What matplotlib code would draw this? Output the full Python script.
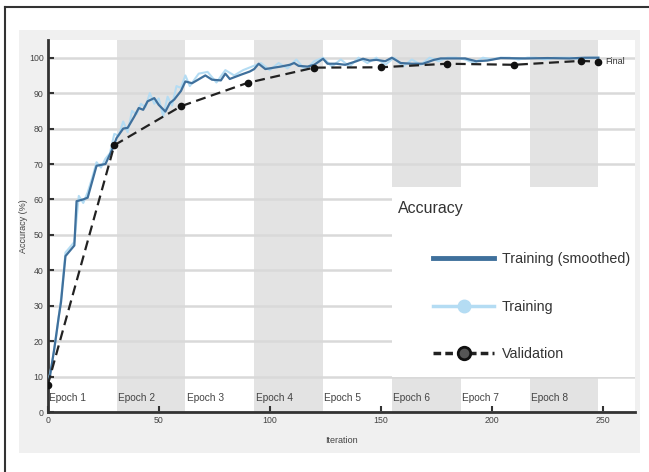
import matplotlib.pyplot as plt
from matplotlib.patches import Rectangle
from matplotlib.lines import Line2D

plt.rcParams['font.family'] = ['Liberation Sans', 'DejaVu Sans']

# data
epoch_len = 31
n_epochs = 8
epoch_labels = ['Epoch %d' % (i + 1) for i in range(n_epochs)]

smooth_iter = [0, 1, 3, 5, 6, 8, 10, 12, 13, 16, 18, 20, 22, 26, 29, 31, 34, 36, 39, 41,
               43, 45, 48, 50, 53, 55, 57, 60, 62, 65, 68, 71, 74, 78, 80, 82, 87, 91, 93, 95,
               98, 101, 105, 109, 111, 113, 117, 120, 124, 126, 130, 134, 139, 142, 145, 148, 152, 155, 159, 164,
               169, 174, 177, 188, 193, 198, 204, 215, 225, 235, 242, 248]
smooth_acc = [8.0, 10, 18, 27, 31, 44, 45.5, 47, 59.5, 60, 60.5, 65, 69.5, 70, 74, 77.3, 80, 80.2, 83.4, 85.8,
              85.3, 87.7, 88.6, 86.7, 84.8, 87.2, 88.2, 90.6, 93.3, 92.8, 93.9, 95, 93.8, 93.6, 95.5, 94, 95.2, 96.1, 96.8, 98.3,
              96.8, 97.1, 97.5, 98, 98.5, 97.7, 97.5, 98, 99.7, 98.3, 98.3, 98, 99, 99.7, 99.2, 99.4, 99, 100, 98.5, 98.3,
              98.3, 99.4, 99.8, 99.8, 99.0, 99.2, 99.9, 99.8, 99.9, 99.8, 100, 100]

raw_iter = [0, 2, 4, 6, 8, 10, 12, 14, 16, 18, 20, 22, 24, 26, 28, 30, 32, 34, 36, 38,
            40, 42, 44, 46, 48, 50, 52, 54, 56, 58, 60, 62, 64, 68, 72, 76, 80, 84, 88, 92,
            96, 100, 104, 108, 112, 116, 120, 124, 128, 132, 136, 140, 144, 148, 152, 156, 160, 164, 168, 172,
            176, 180, 184, 188, 192, 196, 200, 204, 208, 212, 216, 220, 224, 228, 232, 236, 240, 244, 248]
raw_acc = [7.5, 14, 22, 32, 45, 46.5, 48, 61, 59, 62, 66, 70.5, 69, 71.5, 73, 78.5, 78, 82, 79, 85,
           84, 87, 86, 90, 87, 88.5, 83.5, 89, 86.5, 92, 91.5, 95, 92, 95.5, 96, 93, 96.5, 95, 96.5, 97.5,
           98.5, 96.5, 98.5, 97, 99.5, 96.5, 99, 100, 97.5, 99.5, 97.5, 100, 98.5, 100, 98, 100, 97.5, 99.5, 98, 100,
           99, 100, 100, 99.5, 98.5, 100, 99.5, 100, 100, 99.5, 100, 100, 99.5, 100, 100, 100, 99.5, 100, 100]

val_iter = [0, 30, 60, 90, 120, 150, 180, 210, 240, 248]
val_acc = [7.6, 75.3, 86.3, 92.9, 97.2, 97.3, 98.3, 98.0, 99.1, 98.9]

c_smooth = '#3f709c'
c_raw = '#b4dcf3'

W, H = 649, 472
fig = plt.figure(figsize=(W / 100, H / 100), dpi=100)

# grey panel + outer frame
fig.patches.append(Rectangle((19 / W, 1 - 453 / H), (640 - 19) / W, (453 - 30) / H,
                             transform=fig.transFigure, facecolor='#f0f0f0', edgecolor='none', zorder=-5))
fig.lines.append(Line2D([5 / W, 1], [1 - 7 / H, 1 - 7 / H], transform=fig.transFigure, color='#333333', lw=1.5))
fig.lines.append(Line2D([5 / W, 5 / W], [0, 1 - 7 / H], transform=fig.transFigure, color='#333333', lw=1.5))

ax = fig.add_axes([47.7 / W, 1 - 412 / H, (635 - 47.7) / W, (412 - 40) / H])
ax.set_facecolor('white')

# epoch bands
for k in range(n_epochs):
    if k % 2 == 1:
        ax.axvspan(k * epoch_len, (k + 1) * epoch_len, color='#e3e3e3', lw=0, zorder=0.2)
    ax.text(k * epoch_len + 0.6, 4, epoch_labels[k], fontsize=7.3, color='#444444', va='center', ha='left', zorder=3)

# grid
ax.set_axisbelow(True)
ax.yaxis.grid(True, color='#d9d9d9', lw=1.8)

# legend backdrop
ax.add_patch(Rectangle((0.587, 0.094), 0.413, 0.511, transform=ax.transAxes,
                       facecolor='white', edgecolor='none', zorder=3))

ax.plot(raw_iter, raw_acc, color=c_raw, lw=1.5, zorder=4)
ax.plot(smooth_iter, smooth_acc, color=c_smooth, lw=1.6, zorder=5)
ax.plot(val_iter, val_acc, color='#222222', ls='--', dashes=(4.5, 2.5), lw=1.6, zorder=6)
ax.plot(val_iter, val_acc, 'o', color='#111111', ms=4.5, zorder=7)
ax.text(251, 98.8, 'Final', fontsize=6.5, va='center', ha='left', color='#333333')

ax.set_xlim(0, 264.5)
ax.set_ylim(0, 105)
ax.set_xticks(range(0, 251, 50))
ax.set_yticks(range(0, 101, 10))
ax.tick_params(direction='in', length=4, width=1.5, color='#333333', labelsize=6.3, labelcolor='#444444', pad=3)

for s in ['top', 'right']:
    ax.spines[s].set_visible(False)
for s in ['bottom', 'left']:
    ax.spines[s].set_linewidth(2)
    ax.spines[s].set_color('#333333')

ax.set_xlabel('Iteration', fontsize=6.5, color='#444444', labelpad=8)
ax.set_ylabel('Accuracy (%)', fontsize=6.5, color='#444444')
ax.yaxis.set_label_coords(-0.033, 0.5)

# legend
ax.text(0.596, 0.548, 'Accuracy', transform=ax.transAxes, fontsize=11.5, color='#333333', va='center', zorder=8)
handles = [Line2D([], [], color=c_smooth, lw=3.5),
           Line2D([], [], color=c_raw, lw=2.5, marker='o', ms=9, mfc=c_raw, mec=c_raw),
           Line2D([], [], color='#222222', lw=2.5, ls='--', dashes=(2.2, 1.2), marker='o', ms=9, mfc='#555555', mec='#111111', mew=2)]
leg = ax.legend(handles, ['Training (smoothed)', 'Training', 'Validation'],
                loc='upper left', bbox_to_anchor=(0.656, 0.429), frameon=False, fontsize=10.3,
                handlelength=4.3, handletextpad=0.5, labelspacing=2.32, borderpad=0, borderaxespad=0)
for t in leg.get_texts():
    t.set_color('#333333')
leg.set_zorder(8)

fig.savefig('out.png', dpi=100)
